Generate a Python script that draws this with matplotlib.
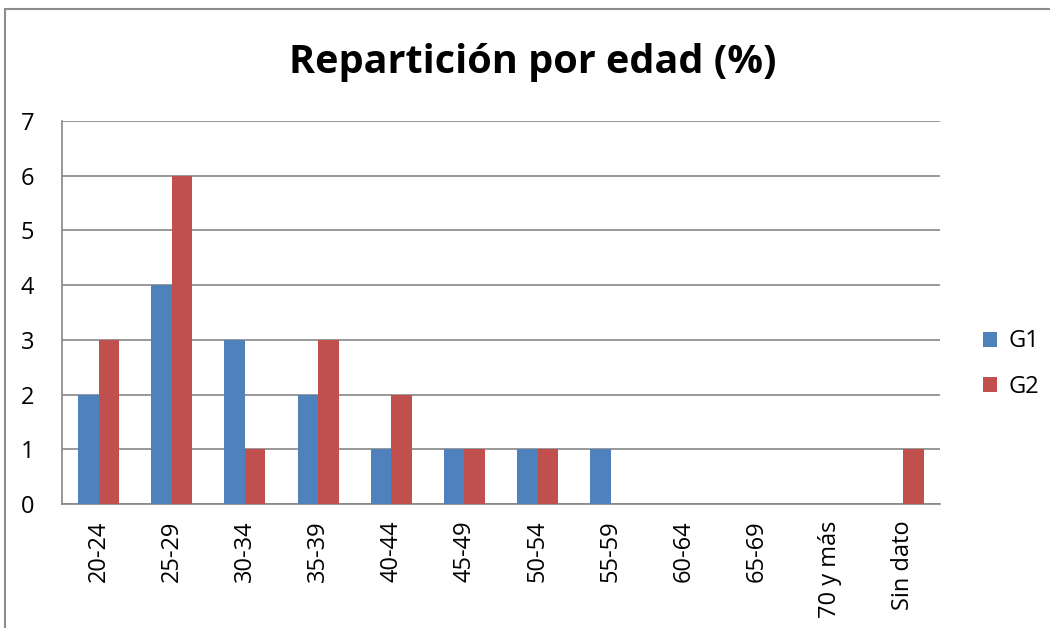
import matplotlib
matplotlib.use('Agg')
import matplotlib.pyplot as plt
import numpy as np
from matplotlib.patches import Rectangle

categories = ['20-24', '25-29', '30-34', '35-39', '40-44', '45-49',
              '50-54', '55-59', '60-64', '65-69', '70 y más', 'Sin dato']
g1 = [2, 4, 3, 2, 1, 1, 1, 1, 0, 0, 0, 0]
g2 = [3, 6, 1, 3, 2, 1, 1, 0, 0, 0, 0, 1]

BLUE = '#4F81BD'
RED = '#C0504D'
GRID = '#868686'

plt.rcParams['font.family'] = ['Open Sans', 'DejaVu Sans']

fig = plt.figure(figsize=(10.5, 6.28), dpi=100)
ax = fig.add_axes([62 / 1050, 1 - 504 / 628, 878 / 1050, 383 / 628])

x = np.arange(len(categories))
w = 0.28
ax.bar(x - w / 2, g1, w, color=BLUE, label='G1', zorder=3)
ax.bar(x + w / 2, g2, w, color=RED, label='G2', zorder=3)

ax.set_xlim(-0.5, len(categories) - 0.5)
ax.set_ylim(0, 7)
ax.set_yticks(range(0, 8))
ax.yaxis.grid(True, color=GRID, linewidth=1.2, zorder=0)
ax.set_xticks(x)
ax.set_xticklabels(categories, rotation=90, fontsize=17)
ax.tick_params(axis='y', labelsize=17, length=0, pad=20)
ax.tick_params(axis='x', length=0, pad=12)

for side in ('top', 'right'):
    ax.spines[side].set_visible(False)
for side in ('left', 'bottom'):
    ax.spines[side].set_color(GRID)
    ax.spines[side].set_linewidth(1.2)

fig.text(533 / 1050, 1 - 62 / 628, 'Repartición por edad (%)', ha='center',
         va='center', fontsize=28.5, fontweight='bold')

ax.legend(loc='center left', bbox_to_anchor=(962 / 1050, 1 - 364 / 628),
          bbox_transform=fig.transFigure, frameon=False, fontsize=17,
          handlelength=0.6, handleheight=0.6, labelspacing=0.9,
          handletextpad=0.45)

fig.patches.append(Rectangle((5 / 1050, -0.1), 1.2, 1 - 9 / 628 + 0.1,
                             transform=fig.transFigure, fill=False,
                             edgecolor='#8c8c8c', linewidth=1.5))

fig.savefig('out.png', dpi=100)
